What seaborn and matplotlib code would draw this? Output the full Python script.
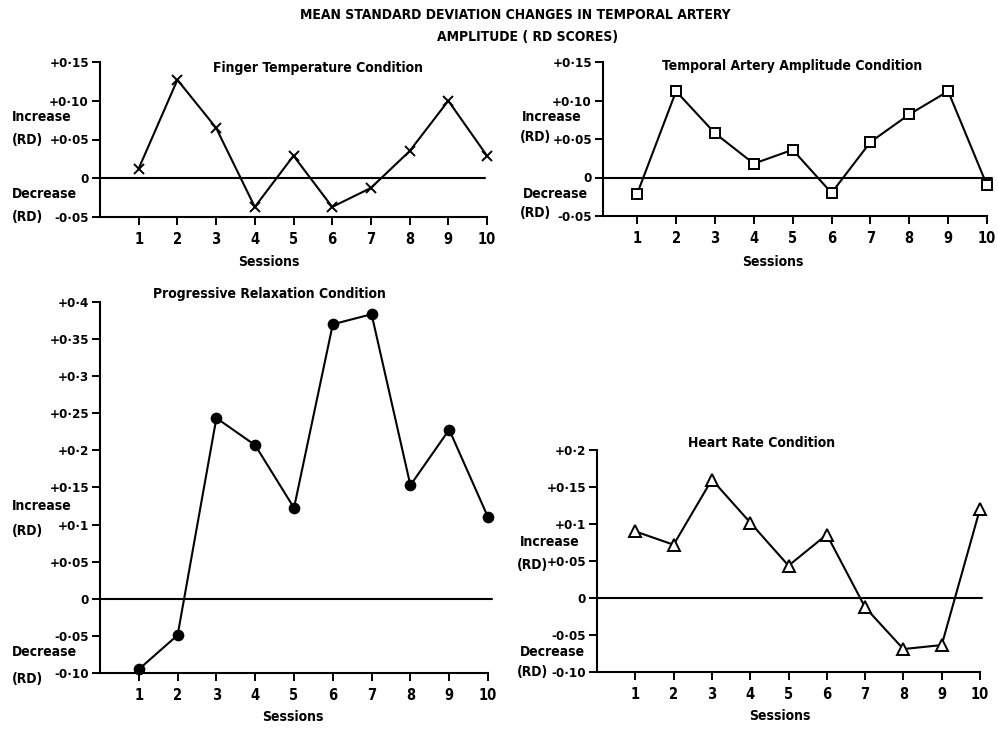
import matplotlib
matplotlib.use("Agg")
import matplotlib.pyplot as plt
import seaborn as sns
import pandas as pd
import numpy as np

sessions = [1, 2, 3, 4, 5, 6, 7, 8, 9, 10]
finger_temp = [0.0125, 0.127, 0.065, -0.037, 0.029, -0.037, -0.0125, 0.035, 0.100, 0.029]
temporal_artery = [-0.021, 0.112, 0.0575, 0.018, 0.036, -0.020, 0.046, 0.082, 0.112, -0.010]
prog_relax = [-0.095, -0.049, 0.2436, 0.207, 0.1225, 0.370, 0.3835, 0.153, 0.228, 0.110]
heart_rate = [0.090, 0.072, 0.160, 0.102, 0.0437, 0.0857, -0.0126, -0.069, -0.0636, 0.1204]

small_ticks = [-0.05, 0, 0.05, 0.10, 0.15]
small_labels = ["-0·05", "0", "+0·05", "+0·10", "+0·15"]
pr_ticks = [-0.10, -0.05, 0, 0.05, 0.1, 0.15, 0.2, 0.25, 0.3, 0.35, 0.4]
pr_labels = ["-0·10", "-0·05", "0", "+0·05", "+0·1", "+0·15", "+0·2", "+0·25", "+0·3", "+0·35", "+0·4"]
hr_ticks = [-0.10, -0.05, 0, 0.05, 0.1, 0.15, 0.2]
hr_labels = ["-0·10", "-0·05", "0", "+0·05", "+0·1", "+0·15", "+0·2"]

sns.set_style("ticks")
plt.rcParams['font.family'] = ['DejaVu Sans']
plt.rcParams['font.stretch'] = 'condensed'
plt.rcParams['font.weight'] = 'bold'
plt.rcParams['text.color'] = 'black'
plt.rcParams['xtick.color'] = 'black'
plt.rcParams['ytick.color'] = 'black'

W, H = 998, 730
fig = plt.figure(figsize=(W / 100, H / 100), dpi=100)
fig.patch.set_facecolor("white")

FS = 10
TFS = 9.5

def ax_at(l, r, t, b):
    return fig.add_axes([l / W, 1 - b / H, (r - l) / W, (b - t) / H])

def txt(x, y, s, ha="center"):
    fig.text(x / W, 1 - y / H, s, ha=ha, va="center", fontsize=FS, fontweight="bold")

def panel(l, r, t, b, vals, marker, ms, mfc, ylim, ticks, labels, title, title_xy,
          sess_xy, side_labels, xlim=(0, 10), zero_right=10):
    ax = ax_at(l, r, t, b)
    df = pd.DataFrame({"Session": sessions, "RD": vals})
    sns.lineplot(data=df, x="Session", y="RD", ax=ax, color="black", lw=1.5,
                 marker=marker, markersize=ms, markerfacecolor=mfc,
                 markeredgecolor="black", markeredgewidth=1.4, clip_on=False)
    ax.plot([xlim[0], zero_right], [0, 0], color="black", lw=1.5, clip_on=False)
    ax.set_xlim(*xlim)
    ax.set_ylim(*ylim)
    ax.set_xticks(sessions)
    ax.set_xticklabels([str(s) for s in sessions], fontsize=FS + 0.5, fontweight="bold")
    ax.set_yticks(ticks)
    ax.set_yticklabels(labels, fontsize=TFS, fontweight="bold")
    ax.tick_params(axis="both", direction="out", length=6, width=1.4, color="black", pad=2)
    ax.tick_params(axis="x", pad=5)
    sns.despine(ax=ax)
    for s in ["left", "bottom"]:
        ax.spines[s].set_linewidth(1.5)
        ax.spines[s].set_color("black")
    ax.spines["bottom"].set_bounds(xlim[0], 10)
    ax.set_xlabel("")
    ax.set_ylabel("")
    ax.set_facecolor("white")
    txt(title_xy[0], title_xy[1], title)
    txt(sess_xy[0], sess_xy[1], "Sessions")
    for (x, y), s in zip(side_labels, ["Increase", "(RD)", "Decrease", "(RD)"]):
        txt(x, y, s, ha="left")
    return ax

panel(100, 487, 62, 217, finger_temp, "x", 7, "black", (-0.05, 0.15), small_ticks, small_labels,
      "Finger Temperature Condition", (318, 68), (269, 262),
      [(12, 117), (12, 140), (12, 194), (12, 217)], zero_right=9.95)
panel(603, 987, 62, 216, temporal_artery, "s", 6.5, "white", (-0.05, 0.15), small_ticks, small_labels,
      "Temporal Artery Amplitude Condition", (792, 66), (773, 262),
      [(522, 117), (520, 137), (523, 194), (520, 213)], xlim=(0.12, 10), zero_right=10.13)
panel(100, 488, 302, 673, prog_relax, "o", 7, "black", (-0.10, 0.4), pr_ticks, pr_labels,
      "Progressive Relaxation Condition", (269, 294), (293, 717),
      [(12, 506), (12, 531), (12, 652), (12, 679)], zero_right=10.1)
panel(597, 980, 450, 672, heart_rate, "^", 8.5, "white", (-0.10, 0.2), hr_ticks, hr_labels,
      "Heart Rate Condition", (762, 443), (780, 716),
      [(520, 542), (517, 565), (520, 652), (517, 672)], zero_right=10.05)

txt(515, 15, "MEAN STANDARD DEVIATION CHANGES IN TEMPORAL ARTERY")
txt(528, 37, "AMPLITUDE ( RD SCORES)")

fig.savefig("out.png", dpi=100, facecolor="white")
